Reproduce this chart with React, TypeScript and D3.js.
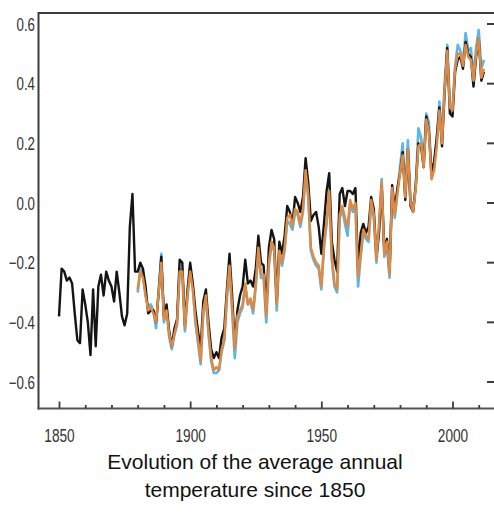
import React, { useEffect, useRef } from "react";
import * as d3 from "d3";

// annual anomalies
const blackStart = 1850;
const blackValues = [
    -0.38, -0.22, -0.23, -0.26, -0.25, -0.27, -0.37, -0.46, -0.47, -0.29,
    -0.34, -0.40, -0.51, -0.29, -0.48, -0.28, -0.24, -0.31, -0.23, -0.26,
    -0.28, -0.33, -0.23, -0.30, -0.38, -0.41, -0.37, -0.08, 0.03, -0.23,
    -0.23, -0.20, -0.22, -0.28, -0.37, -0.36, -0.36, -0.40, -0.30, -0.18,
    -0.38, -0.34, -0.43, -0.48, -0.42, -0.39, -0.19, -0.20, -0.41, -0.29,
    -0.20, -0.27, -0.36, -0.43, -0.49, -0.33, -0.29, -0.40, -0.49, -0.52,
    -0.50, -0.52, -0.45, -0.42, -0.29, -0.17, -0.31, -0.48, -0.36, -0.31,
    -0.28, -0.19, -0.27, -0.26, -0.28, -0.22, -0.11, -0.20, -0.21, -0.36,
    -0.15, -0.09, -0.12, -0.33, -0.13, -0.17, -0.11, -0.01, -0.03, -0.07,
    0.02, 0.0, -0.03, 0.02, 0.15, 0.07, -0.06, -0.04, -0.03, -0.08,
    -0.17, -0.07, 0.04, 0.1, -0.13, -0.19, -0.23, 0.03, 0.05, -0.01,
    0.04, 0.04, 0.03, 0.05, -0.22, -0.1, -0.07, -0.1, -0.08, 0.02,
    -0.02, -0.18, -0.1, 0.06, -0.16, -0.12, -0.23, 0.06, -0.02, 0.05,
    0.1, 0.17, 0.01, 0.18, -0.01, -0.03, 0.06, 0.2, 0.19, 0.12,
    0.29, 0.24, 0.1, 0.14, 0.22, 0.32, 0.19, 0.37, 0.52, 0.3,
    0.29, 0.44, 0.48, 0.49, 0.45, 0.54, 0.5, 0.49, 0.39, 0.49,
    0.55, 0.41, 0.44,
];

const otherStart = 1880;
const orangeValues = [
    -0.29, -0.23, -0.25, -0.31, -0.36, -0.35, -0.37, -0.40, -0.30, -0.20,
    -0.39, -0.36, -0.44, -0.48, -0.44, -0.40, -0.23, -0.23, -0.42, -0.31,
    -0.23, -0.29, -0.39, -0.46, -0.53, -0.36, -0.31, -0.43, -0.52, -0.56,
    -0.55, -0.56, -0.49, -0.46, -0.31, -0.21, -0.35, -0.49, -0.38, -0.36,
    -0.34, -0.27, -0.34, -0.32, -0.36, -0.27, -0.15, -0.24, -0.24, -0.38,
    -0.20, -0.13, -0.15, -0.34, -0.16, -0.20, -0.15, -0.05, -0.04, -0.08,
    -0.02, -0.03, -0.07, -0.02, 0.11, 0.03, -0.15, -0.18, -0.20, -0.21,
    -0.28, -0.14, -0.06, 0.04, -0.18, -0.27, -0.29, -0.04, -0.01, -0.05,
    -0.08, 0.01, -0.02, 0.0, -0.25, -0.17, -0.09, -0.11, -0.12, 0.01,
    -0.04, -0.19, -0.07, 0.07, -0.17, -0.13, -0.24, 0.05, -0.04, 0.03,
    0.1, 0.16, 0.02, 0.18, 0.0, -0.03, 0.05, 0.19, 0.2, 0.12,
    0.28, 0.24, 0.08, 0.11, 0.19, 0.31, 0.2, 0.38, 0.51, 0.32,
    0.31, 0.45, 0.5, 0.5, 0.46, 0.53, 0.49, 0.48, 0.41, 0.5,
    0.55, 0.42, 0.45,
];
const blueValues = [
    -0.30, -0.22, -0.24, -0.31, -0.35, -0.34, -0.36, -0.42, -0.29, -0.17,
    -0.40, -0.35, -0.45, -0.49, -0.44, -0.41, -0.22, -0.24, -0.43, -0.31,
    -0.22, -0.28, -0.40, -0.47, -0.54, -0.37, -0.32, -0.44, -0.53, -0.57,
    -0.57, -0.56, -0.50, -0.46, -0.32, -0.22, -0.36, -0.52, -0.40, -0.37,
    -0.35, -0.28, -0.34, -0.33, -0.37, -0.28, -0.16, -0.25, -0.25, -0.40,
    -0.21, -0.14, -0.16, -0.36, -0.17, -0.21, -0.16, -0.06, -0.07, -0.09,
    -0.03, -0.04, -0.08, -0.03, 0.1, 0.02, -0.16, -0.19, -0.21, -0.22,
    -0.29, -0.15, -0.07, 0.03, -0.19, -0.28, -0.30, -0.05, -0.02, -0.07,
    -0.11, 0.0, -0.03, -0.01, -0.28, -0.18, -0.10, -0.12, -0.13, 0.0,
    -0.05, -0.20, -0.08, 0.08, -0.18, -0.14, -0.25, 0.04, -0.05, 0.04,
    0.12, 0.2, 0.03, 0.21, 0.01, -0.02, 0.06, 0.25, 0.22, 0.14,
    0.3, 0.27, 0.09, 0.13, 0.21, 0.34, 0.22, 0.4, 0.53, 0.33,
    0.32, 0.46, 0.53, 0.51, 0.47, 0.57, 0.51, 0.52, 0.42, 0.52,
    0.58, 0.45, 0.48,
];

const yTicks = [0.6, 0.4, 0.2, 0.0, -0.2, -0.4, -0.6];
const yTickLabels = ["0.6", "0.4", "0.2", "0.0", "\u22120.2", "\u22120.4", "\u22120.6"];
const xMajor = [1850, 1900, 1950, 2000];
const xMinor = [1860, 1870, 1880, 1890, 1910, 1920, 1930, 1940, 1960, 1970, 1980, 1990, 2010];
const titleLines = ["Evolution of the average annual", "temperature since 1850"];

const W = 494;
const H = 514;

const App = () => {
    const chart = useRef(null);

    useEffect(() => {
        const svg = d3.select(chart.current);
        svg.selectAll("*").remove();

        const left = 38.5;
        const top = 13;
        const bottom = 408.5;
        const right = 496;

        const xScale = d3.scaleLinear().domain([1850, 2000]).range([59, 452.5]);
        const yScale = d3.scaleLinear().domain([-0.6, 0.6]).range([382, 24]);

        const axisColor = "#3c3c3c";

        // series
        const line = (start) =>
            d3
                .line()
                .x((d, i) => xScale(start + i))
                .y((d) => yScale(d));

        const series = [
            { values: blueValues, start: otherStart, color: "#5cb6e6", width: 2.6 },
            { values: blackValues, start: blackStart, color: "#141414", width: 2.4 },
            { values: orangeValues, start: otherStart, color: "#dc8a45", width: 2.5 },
        ];
        series.forEach((s) => {
            svg.append("path")
                .datum(s.values)
                .attr("d", line(s.start))
                .attr("fill", "none")
                .attr("stroke", s.color)
                .attr("stroke-width", s.width)
                .attr("stroke-linejoin", "round");
        });

        // frame
        svg.append("line")
            .attr("x1", left).attr("x2", right)
            .attr("y1", top).attr("y2", top)
            .attr("stroke", axisColor).attr("stroke-width", 2.2);
        svg.append("line")
            .attr("x1", left).attr("x2", left)
            .attr("y1", top - 1).attr("y2", bottom + 1)
            .attr("stroke", axisColor).attr("stroke-width", 2);
        svg.append("line")
            .attr("x1", left - 1).attr("x2", right)
            .attr("y1", bottom).attr("y2", bottom)
            .attr("stroke", "#555").attr("stroke-width", 2);

        // bottom ticks
        const minorAxis = d3.axisBottom(xScale).tickValues(xMinor).tickSize(-3.5).tickFormat(() => "");
        const gMinor = svg.append("g").attr("transform", `translate(0,${bottom})`).call(minorAxis);
        const majorAxis = d3.axisBottom(xScale).tickValues(xMajor).tickSize(-7).tickPadding(20)
            .tickFormat((d) => String(d));
        const gMajor = svg.append("g").attr("transform", `translate(0,${bottom})`).call(majorAxis);
        [gMinor, gMajor].forEach((g) => {
            g.select(".domain").remove();
            g.selectAll(".tick line").attr("stroke", axisColor).attr("stroke-width", 1.8);
        });
        gMajor.selectAll(".tick text")
            .attr("y", 0)
            .attr("dy", 0)
            .attr("transform", "translate(0,33.5) scale(0.72,1)")
            .attr("font-family", "Liberation Sans, Arial, sans-serif")
            .attr("font-size", 19)
            .attr("fill", "#333");

        // y labels and right-side ticks
        yTicks.forEach((v, i) => {
            svg.append("text")
                .attr("transform", `translate(35,${yScale(v) + 6.5}) scale(0.74,1)`)
                .attr("text-anchor", "end")
                .attr("font-family", "Liberation Sans, Arial, sans-serif")
                .attr("font-size", 18)
                .attr("fill", "#333")
                .text(yTickLabels[i]);
            svg.append("line")
                .attr("x1", 487).attr("x2", 494)
                .attr("y1", yScale(v)).attr("y2", yScale(v))
                .attr("stroke", axisColor).attr("stroke-width", 2);
        });

        // caption
        titleLines.forEach((t, i) => {
            svg.append("text")
                .attr("x", 255)
                .attr("y", 469 + i * 28)
                .attr("text-anchor", "middle")
                .attr("font-family", "Liberation Sans, Arial, sans-serif")
                .attr("font-size", 21)
                .attr("fill", "#111")
                .text(t);
        });
    }, []);

    return (
        <svg
            ref={chart}
            width={W}
            height={H}
            style={{ position: "absolute", left: 0, top: 0, background: "#fff" }}
        ></svg>
    );
};

export default App;
